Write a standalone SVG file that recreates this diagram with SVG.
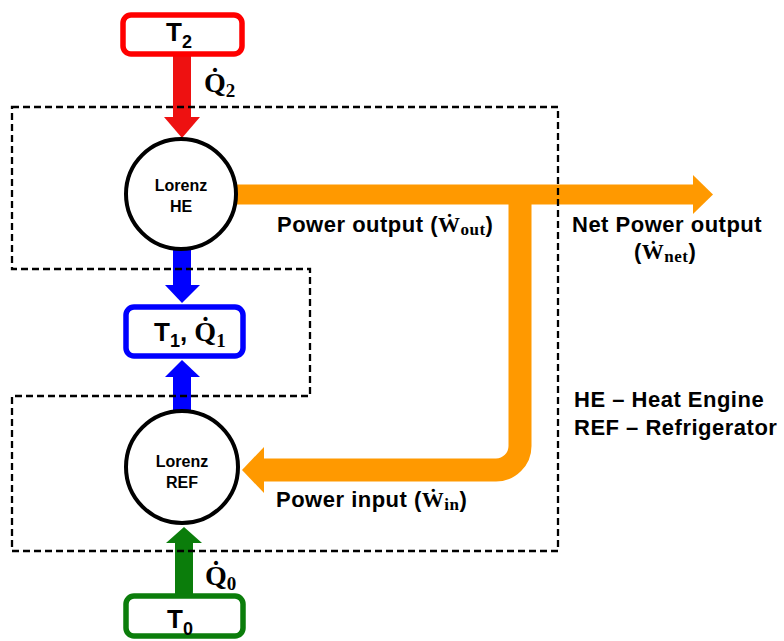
<svg xmlns="http://www.w3.org/2000/svg" width="784" height="641" viewBox="0 0 784 641">
<style>
.sans{font-family:"Liberation Sans",Arial,sans-serif;font-weight:bold;fill:#000}
.ser{font-family:"Liberation Serif","Times New Roman",serif;font-weight:bold;fill:#000}
.lbl{font-size:22px;letter-spacing:0.5px}
.box{fill:#fff;stroke-width:5.5}
.node{fill:#fff;stroke:#000;stroke-width:4}
.dash{fill:none;stroke:#000;stroke-width:2.3;stroke-dasharray:7 4}
</style>
<rect width="784" height="641" fill="#fff"/>
<g id="connectors">
  <g id="orange-power">
    <path d="M236 194.5 H695" fill="none" stroke="#FF9900" stroke-width="20"/>
    <polygon points="693,175 713,194.5 693,214" fill="#FF9900"/>
    <path d="M520 194 V446 A24 24 0 0 1 496 470 H262" fill="none" stroke="#FF9900" stroke-width="23"/>
    <polygon points="264,447 242,470 264,493" fill="#FF9900"/>
  </g>
  <g id="q2-arrow" fill="#EE1111">
    <rect x="173" y="54" width="18" height="65"/>
    <polygon points="164,117 200,117 182,138"/>
  </g>
  <g id="q1-down" fill="#0000FF">
    <rect x="173" y="249" width="18" height="38"/>
    <polygon points="165,285 200,285 182,303"/>
  </g>
  <g id="q1-up" fill="#0000FF">
    <rect x="173" y="375" width="18" height="36"/>
    <polygon points="165,377 200,377 182,360"/>
  </g>
  <g id="q0-arrow" fill="#0B7D0B">
    <rect x="175" y="541" width="18" height="56"/>
    <polygon points="166,543 202,543 184,527"/>
  </g>
</g>
<g id="T2">
  <rect class="box" x="123" y="15" width="119" height="39" rx="8" stroke="#FF0000"/>
  <text class="sans" x="166" y="41" font-size="26">T<tspan font-size="18" dy="7">2</tspan></text>
</g>
<g id="HE">
  <circle class="node" cx="181" cy="194" r="55"/>
  <text class="sans" x="181" y="191" font-size="16" text-anchor="middle">Lorenz</text>
  <text class="sans" x="181" y="212" font-size="16" text-anchor="middle">HE</text>
</g>
<g id="T1">
  <rect class="box" x="126" y="307" width="117" height="49" rx="8" stroke="#0000FF"/>
  <text x="154" y="341" font-size="26"><tspan class="sans">T</tspan><tspan class="sans" font-size="18" dy="6">1</tspan><tspan class="sans" dy="-6">, </tspan><tspan class="ser" font-size="28">Q̇</tspan><tspan class="ser" font-size="19" dy="6">1</tspan></text>
</g>
<g id="REF">
  <circle class="node" cx="182" cy="467" r="56"/>
  <text class="sans" x="182" y="467" font-size="16" text-anchor="middle">Lorenz</text>
  <text class="sans" x="182" y="488" font-size="16" text-anchor="middle">REF</text>
</g>
<g id="T0">
  <rect class="box" x="126" y="596" width="117" height="40" rx="8" stroke="#0B7D0B"/>
  <text class="sans" x="167" y="628" font-size="26">T<tspan font-size="18" dy="7">0</tspan></text>
</g>
<g id="labels">
  <text class="ser" x="204" y="92" font-size="28">Q̇<tspan font-size="19" dy="5">2</tspan></text>
  <text class="ser" x="205" y="585" font-size="28">Q̇<tspan font-size="19" dy="5">0</tspan></text>
  <text class="sans lbl" x="277" y="232">Power output (<tspan class="ser">Ẇ</tspan><tspan class="ser" font-size="17" dy="3">out</tspan><tspan dy="-3">)</tspan></text>
  <text class="sans lbl" x="572" y="232">Net Power output</text>
  <text class="sans lbl" x="634" y="259">(<tspan class="ser">Ẇ</tspan><tspan class="ser" font-size="17" dy="3">net</tspan><tspan dy="-3">)</tspan></text>
  <text class="sans lbl" x="276" y="507">Power input (<tspan class="ser">Ẇ</tspan><tspan class="ser" font-size="17" dy="3">in</tspan><tspan dy="-3">)</tspan></text>
  <text class="sans lbl" x="574" y="407">HE – Heat Engine</text>
  <text class="sans lbl" x="574" y="435">REF – Refrigerator</text>
</g>
<polygon id="boundary" class="dash" points="12,107 558,107 558,551 12,551 12,396 310,396 310,269 12,269"/>
</svg>
